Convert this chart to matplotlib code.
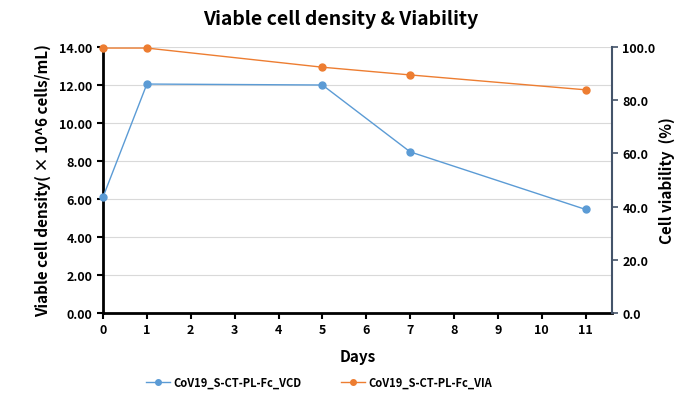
import matplotlib
matplotlib.use("Agg")
import matplotlib.pyplot as plt

plt.rcParams['font.family'] = ['Noto Sans CJK KR', 'DejaVu Sans']

days = [0, 1, 5, 7, 11]
vcd = [6.10, 12.05, 12.00, 8.48, 5.45]
via = [99.6, 99.6, 92.4, 89.5, 83.9]
xticks = list(range(0, 12))
left_ticks = [0, 2, 4, 6, 8, 10, 12, 14]
right_ticks = [0, 20, 40, 60, 80, 100]

blue = '#5B9BD5'
orange = '#ED7D31'

fig = plt.figure(figsize=(6.82, 4.02), dpi=100)
ax = fig.add_axes([103/682, 1-314/402, (612-103)/682, (314-48)/402])
ax2 = ax.twinx()

ax.plot(days, vcd, color=blue, lw=1.0, marker='o', ms=5, label='CoV19_S-CT-PL-Fc_VCD', zorder=3, clip_on=False)
ax2.plot(days, via, color=orange, lw=1.0, marker='o', ms=5, label='CoV19_S-CT-PL-Fc_VIA', zorder=3, clip_on=False)

ax.set_xlim(0, 11.6)
ax.set_ylim(0, 14)
ax2.set_ylim(0, 100)
ax.set_xticks(xticks)
ax.set_yticks(left_ticks)
ax.set_yticklabels([f'{v:.2f}' for v in left_ticks])
ax2.set_yticks(right_ticks)
ax2.set_yticklabels([f'{v:.1f}' for v in right_ticks])

ax.grid(axis='y', color='#D9D9D9', lw=0.8)
ax.set_axisbelow(True)

for s in ['top', 'right']:
    ax.spines[s].set_visible(False)
for s in ['top', 'left', 'bottom']:
    ax2.spines[s].set_visible(False)
ax.spines['left'].set_linewidth(2)
ax.spines['bottom'].set_linewidth(2)
ax.spines['left'].set_color('black')
ax.spines['bottom'].set_color('black')
ax2.spines['right'].set_color('#44546A')
ax2.spines['right'].set_linewidth(1.5)

ax.tick_params(axis='both', direction='out', length=4, width=1.5, labelsize=9, colors='black')
ax2.tick_params(axis='y', direction='out', length=4, width=1.2, color='#44546A', labelsize=9, labelcolor='black')
for lab in ax.get_xticklabels() + ax.get_yticklabels() + ax2.get_yticklabels():
    lab.set_fontweight('bold')

ax.set_xlabel('Days', fontsize=11, fontweight='bold', labelpad=8)
ax.set_ylabel('Viable cell density( × 10^6 cells/mL)', fontsize=11, fontweight='bold', labelpad=6)
ax2.set_ylabel('Cell viability  (%)', fontsize=11, fontweight='bold', labelpad=2)

fig.suptitle('Viable cell density & Viability', fontsize=14, fontweight='bold', y=0.975)

h1, l1 = ax.get_legend_handles_labels()
h2, l2 = ax2.get_legend_handles_labels()
fig.legend(h1 + h2, l1 + l2, loc='center', bbox_to_anchor=(319/682, 1-383/402), ncol=2,
           frameon=False, prop={'size': 8, 'weight': 'bold'}, handlelength=2.2, handletextpad=0.3,
           columnspacing=3.5, markerscale=0.8)

fig.savefig('out.png', dpi=100)
